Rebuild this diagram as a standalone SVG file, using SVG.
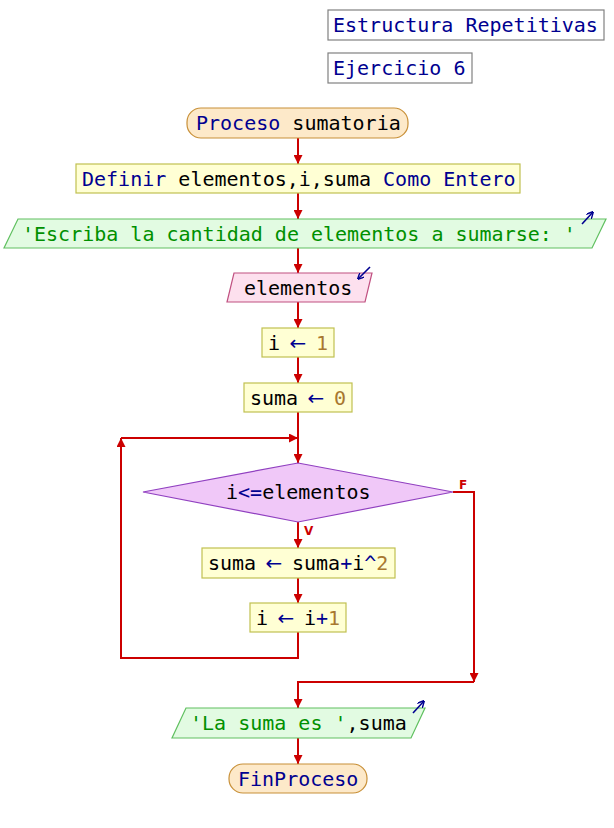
<svg xmlns="http://www.w3.org/2000/svg" width="614" height="828" viewBox="0 0 614 828">
<defs>
<style>
text{font-family:"DejaVu Sans Mono","Liberation Mono",monospace;font-size:20px;fill:#000}
.kw{fill:#000090}
.num{fill:#a87830}
.str{fill:#009000}
.arr{font-family:"DejaVu Sans",sans-serif;fill:#000090;text-anchor:middle}
.title{fill:#fff;stroke:#808080;stroke-width:1.2}
.term{fill:#fde9c9;stroke:#c89038;stroke-width:1.2}
.proc{fill:#ffffd4;stroke:#c0c050;stroke-width:1.2}
.out{fill:#e2fbe2;stroke:#60c060;stroke-width:1.2}
.inp{fill:#fde0ee;stroke:#c05080;stroke-width:1.2}
.dec{fill:#f0c8f8;stroke:#9040c0;stroke-width:1.2}
.con{fill:none;stroke:#cc0000;stroke-width:2}
.ico{fill:none;stroke:#000090;stroke-width:1.6}
.lbl{font-family:"DejaVu Sans","Liberation Sans",sans-serif;font-size:12px;font-weight:bold;fill:#cc0000}
</style>
<marker id="ah" viewBox="0 0 10 10" refX="10" refY="5" markerWidth="10" markerHeight="9" markerUnits="userSpaceOnUse" orient="auto">
<path d="M0,0 L10,5 L0,10 z" fill="#cc0000"/>
</marker>
<marker id="ib" viewBox="0 0 10 10" refX="9" refY="5" markerWidth="7" markerHeight="7" markerUnits="userSpaceOnUse" orient="auto">
<path d="M0,0 L10,5 L0,10" fill="none" stroke="#000090" stroke-width="2"/>
</marker>
</defs>
<rect width="614" height="828" fill="#fff"/>

<g id="title1"><rect class="title" x="328" y="10" width="276" height="30"/><text class="kw" x="333" y="32">Estructura Repetitivas</text></g>
<g id="title2"><rect class="title" x="328" y="53" width="144" height="30"/><text class="kw" x="333" y="75">Ejercicio 6</text></g>

<g id="connectors">
<path class="con" d="M298 138V164" marker-end="url(#ah)"/>
<path class="con" d="M298 193V219" marker-end="url(#ah)"/>
<path class="con" d="M298 248V273" marker-end="url(#ah)"/>
<path class="con" d="M298 302V328" marker-end="url(#ah)"/>
<path class="con" d="M298 357V383" marker-end="url(#ah)"/>
<path class="con" d="M298 412V463" marker-end="url(#ah)"/>
<path class="con" d="M298 522V548" marker-end="url(#ah)"/>
<path class="con" d="M298 578V603" marker-end="url(#ah)"/>
<path class="con" d="M298 632V658H121V438" marker-end="url(#ah)"/>
<path class="con" d="M121 438H298" marker-end="url(#ah)"/>
<path class="con" d="M453 492H474V682" marker-end="url(#ah)"/>
<path class="con" d="M474 682H298V708" marker-end="url(#ah)"/>
<path class="con" d="M298 738V764" marker-end="url(#ah)"/>
<text class="lbl" x="459" y="489">F</text>
<text class="lbl" x="304" y="535">V</text>
</g>

<g id="start"><rect class="term" x="187" y="108" width="221" height="30" rx="14"/><text x="196" y="130"><tspan class="kw">Proceso</tspan> sumatoria</text></g>
<g id="define"><rect class="proc" x="76" y="164" width="444" height="29"/><text x="82" y="185.5"><tspan class="kw">Definir</tspan> elementos,i,suma <tspan class="kw">Como Entero</tspan></text></g>
<g id="write1"><path class="out" d="M18 219H606L592 248H4Z"/><text class="str" x="22" y="240.5">'Escriba la cantidad de elementos a sumarse: '</text><path class="ico" d="M582 224L593 212" marker-end="url(#ib)"/></g>
<g id="read"><path class="inp" d="M234 273H372L365 302H227Z"/><text x="244" y="294.5">elementos</text><path class="ico" d="M370 267L358 279" marker-end="url(#ib)"/></g>
<g id="assign1"><rect class="proc" x="262" y="328" width="72" height="29"/><text x="268" y="349.5">i</text><text class="arr" x="298" y="349.5">←</text><text class="num" x="316" y="349.5">1</text></g>
<g id="assign2"><rect class="proc" x="244" y="383" width="108" height="29"/><text x="250" y="404.5">suma</text><text class="arr" x="316" y="404.5">←</text><text class="num" x="334" y="404.5">0</text></g>
<g id="cond"><path class="dec" d="M298 463L453 492L298 522L143 492Z"/><text x="226" y="499">i<tspan class="kw">&lt;=</tspan>elementos</text></g>
<g id="assign3"><rect class="proc" x="202" y="548" width="193" height="30"/><text x="208" y="570">suma</text><text class="arr" x="274" y="570">←</text><text x="292" y="570">suma<tspan class="kw">+</tspan>i<tspan class="kw">^</tspan><tspan class="num">2</tspan></text></g>
<g id="assign4"><rect class="proc" x="250" y="603" width="96" height="29"/><text x="256" y="624.5">i</text><text class="arr" x="286" y="624.5">←</text><text x="304" y="624.5">i<tspan class="kw">+</tspan><tspan class="num">1</tspan></text></g>
<g id="write2"><path class="out" d="M186 708H425L411 738H172Z"/><text x="190" y="730"><tspan class="str">'La suma es '</tspan>,suma</text><path class="ico" d="M413 713L424 701" marker-end="url(#ib)"/></g>
<g id="end"><rect class="term" x="229" y="764" width="138" height="29" rx="14"/><text class="kw" x="238" y="785.5">FinProceso</text></g>
</svg>
